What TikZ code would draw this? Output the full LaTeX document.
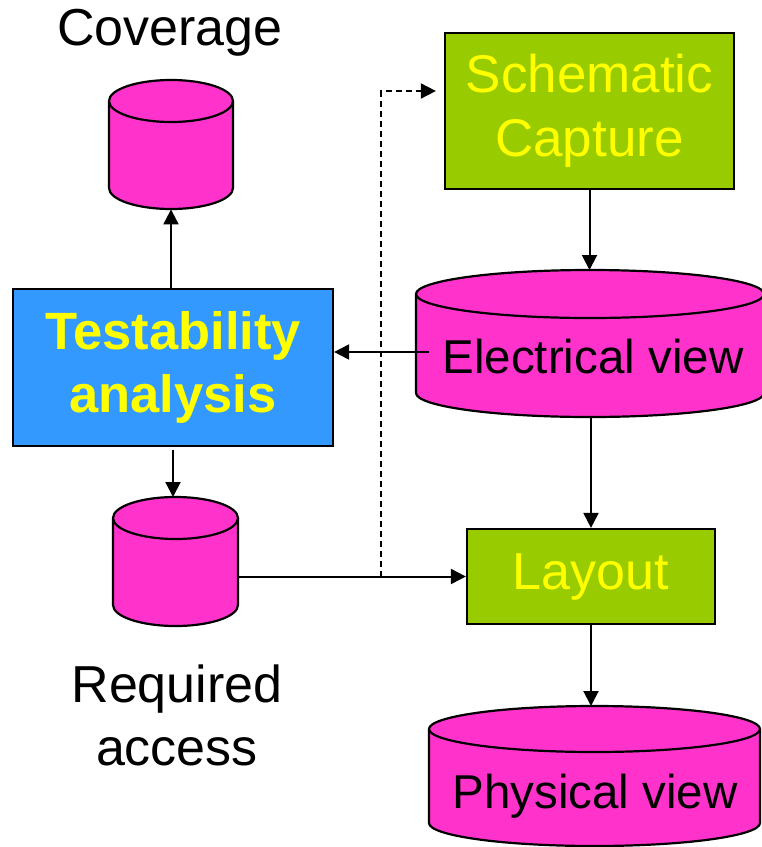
\documentclass[tikz,border=0pt]{standalone}
\usepackage{fontspec}
\setmainfont{Liberation Sans}
\usetikzlibrary{arrows.meta,calc}
\definecolor{dbmag}{HTML}{FF33CC}
\definecolor{procblue}{HTML}{3399FF}
\definecolor{procgreen}{HTML}{99CC00}
\definecolor{txtyellow}{HTML}{FFFF00}
\newcommand{\dbcyl}[6]{% name, cx, top, bottom, rx, ry (image px)
  \pgfmathsetmacro\cL{#2-#5}\pgfmathsetmacro\cR{#2+#5}%
  \pgfmathsetmacro\cT{#3+#6}\pgfmathsetmacro\cB{#4-#6}%
  \pgfmathsetmacro\cH{#4-#3}%
  \fill[dbmag] (#2,\cB) ellipse[x radius=#5pt, y radius=#6pt];
  \fill[dbmag] (\cL,\cT) rectangle (\cR,\cB);
  \draw[outline] (\cL,\cT) -- (\cL,\cB) arc[start angle=180,end angle=360,x radius=#5pt,y radius=#6pt] -- (\cR,\cT);
  \filldraw[fill=dbmag, outline] (#2,\cT) ellipse[x radius=#5pt, y radius=#6pt];
  \node[inner sep=0, minimum width=2*#5pt, minimum height=\cH pt, anchor=north] (#1) at (#2,#3) {};
}
\tikzset{
  outline/.style={draw=black, line width=2.2pt},
  procbox/.style={outline, inner sep=0, align=center, font=\fontsize{52}{63}\selectfont},
  bigtext/.style={inner sep=0, align=center, font=\fontsize{52}{63}\selectfont},
  viewtext/.style={inner sep=0, align=center, font=\fontsize{47.5}{57}\selectfont},
  conn/.style={line width=2pt, -{Triangle[length=15pt,width=15pt]}},
  dashconn/.style={line width=1.7pt, dash pattern=on 6pt off 4pt, -{Triangle[length=15pt,width=15pt]}},
}
\begin{document}
\begin{tikzpicture}[x=1pt,y=-1pt]
\useasboundingbox (0,0) rectangle (762,847);
% process boxes
\node[procbox, fill=procblue, text=txtyellow, font=\fontsize{52.5}{63}\selectfont\bfseries,
      minimum width=320pt, minimum height=157pt] (test) at (173,367.5) {Testability\\analysis};
\node[procbox, fill=procgreen, text=txtyellow, font=\fontsize{53}{64}\selectfont,
      minimum width=289pt, minimum height=156pt] (sch) at (589.5,111) {Schematic\\Capture};
\node[procbox, fill=procgreen, text=txtyellow,
      minimum width=248pt, minimum height=95pt] (layout) at (591,576.5) {Layout};
% databases
\dbcyl{cov}{171}{80}{209}{62}{21}
\dbcyl{req}{175.5}{497}{626}{62.5}{21}
\dbcyl{elec}{590}{270}{417}{174}{24}
\dbcyl{phys}{594.5}{706}{846}{165.5}{23}
% labels
\node[bigtext, anchor=base] (covlbl) at (170,45) {Coverage};
\node[bigtext, anchor=base] (reqlbl) at (177,765) {Required\\access};
\node[viewtext, anchor=base] (eleclbl) at (593,373) {Electrical view};
\node[viewtext, anchor=base] (physlbl) at (595,808) {Physical view};
% connectors
\coordinate (eout) at (429,352);
\coordinate (junc) at (381,576.5);
\draw[conn] (test.north -| cov.south) -- (cov.south);
\draw[conn, shorten <=3pt] (test.south) -- (test.south |- req.north);
\draw[conn] (sch.south) -- (sch.south |- elec.north);
\draw[conn] (eout) -- (eout -| test.east);
\draw[conn] (elec.south -| layout.north) -- (layout.north);
\draw[conn] (layout.south) -- (layout.south |- phys.north);
\draw[conn] (req.east |- layout.west) -- (layout.west);
\draw[dashconn, shorten >=8pt] (junc) -- (junc |- 0,91) -- (sch.west |- 0,91);
\end{tikzpicture}
\end{document}
